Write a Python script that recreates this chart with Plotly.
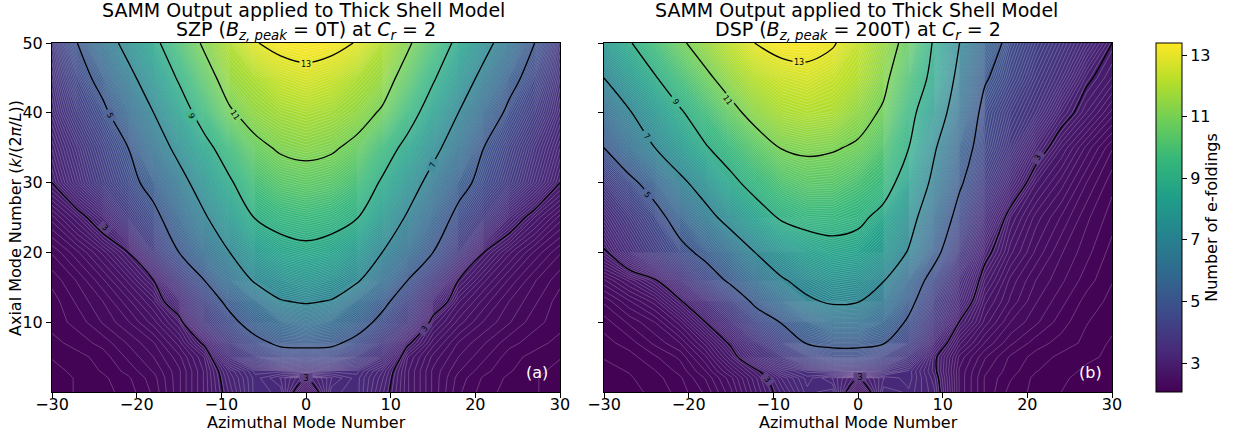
import plotly.graph_objects as go

FONT = "DejaVu Sans"
W, H = 1234, 437

# Azimuthal mode numbers and axial mode numbers of the value grids
azimuthal_half = [0, 3, 6, 9, 12, 15, 18, 21, 24, 27, 30]
azimuthal_full = [-30, -27, -24, -21, -18, -15, -12, -9, -6, -3, 0, 3, 6, 9, 12, 15, 18, 21, 24, 27, 30]
axial = [0, 2, 3, 5, 7, 10, 13, 16, 20, 25, 30, 35, 40, 45, 50]

# SZP: symmetric in azimuthal number, values for m = 0, 3, ... 30, one row per axial value
szp_half = [
    [2.60, 3.40, 3.45, 3.10, 2.75, 2.50, 2.30, 2.20, 2.15, 2.12, 2.10],
    [3.02, 3.30, 3.45, 3.15, 2.75, 2.50, 2.32, 2.22, 2.16, 2.12, 2.10],
    [3.60, 3.50, 3.50, 3.20, 2.75, 2.50, 2.35, 2.25, 2.18, 2.13, 2.10],
    [4.50, 4.45, 4.10, 3.55, 2.80, 2.55, 2.40, 2.30, 2.20, 2.15, 2.12],
    [5.25, 5.20, 4.70, 3.95, 3.05, 2.65, 2.45, 2.35, 2.25, 2.20, 2.15],
    [6.20, 5.95, 5.50, 4.70, 3.90, 2.85, 2.60, 2.45, 2.35, 2.25, 2.20],
    [7.10, 6.95, 6.10, 5.30, 4.35, 3.35, 2.75, 2.55, 2.40, 2.30, 2.20],
    [7.80, 7.55, 7.15, 6.10, 5.00, 4.00, 3.00, 2.70, 2.50, 2.35, 2.25],
    [8.70, 8.50, 8.00, 7.00, 6.00, 5.00, 4.00, 3.00, 2.70, 2.50, 2.35],
    [9.60, 9.45, 9.05, 8.00, 6.85, 5.70, 4.70, 4.00, 3.25, 2.85, 2.60],
    [10.50, 10.35, 9.90, 8.85, 7.70, 6.50, 5.40, 4.65, 4.05, 3.50, 3.00],
    [11.30, 11.15, 10.70, 9.70, 8.60, 7.40, 6.20, 5.00, 4.30, 3.70, 3.20],
    [11.95, 11.80, 11.50, 10.85, 9.60, 8.30, 7.00, 5.80, 4.75, 4.10, 3.45],
    [12.70, 12.50, 12.00, 11.60, 10.45, 9.15, 7.85, 6.60, 5.40, 4.50, 3.65],
    [13.39, 13.29, 12.95, 12.07, 11.20, 10.00, 8.65, 7.47, 6.25, 5.00, 3.90],
]

# DSP: one value per azimuthal_full entry, one row per axial value
dsp = [
    [2.08, 2.10, 2.13, 2.20, 2.30, 2.50, 2.80, 3.10, 3.40, 3.45, 2.60, 3.40, 3.35, 3.15, 2.50, 2.28, 2.15, 2.10, 2.06, 2.04, 2.02],
    [2.10, 2.11, 2.15, 2.22, 2.35, 2.55, 2.85, 3.20, 3.45, 3.30, 3.02, 3.30, 3.40, 3.10, 2.50, 2.28, 2.18, 2.10, 2.07, 2.04, 2.02],
    [2.10, 2.12, 2.17, 2.25, 2.40, 2.65, 2.95, 3.40, 3.55, 3.65, 3.70, 3.60, 3.40, 3.05, 2.50, 2.30, 2.20, 2.12, 2.08, 2.05, 2.03],
    [2.12, 2.15, 2.22, 2.30, 2.50, 2.85, 3.40, 3.85, 4.30, 4.60, 4.60, 4.30, 3.80, 3.05, 2.55, 2.35, 2.22, 2.15, 2.10, 2.07, 2.05],
    [2.15, 2.20, 2.30, 2.40, 2.65, 3.05, 3.70, 4.35, 5.05, 5.20, 5.20, 5.05, 4.30, 3.30, 2.70, 2.45, 2.30, 2.20, 2.15, 2.10, 2.05],
    [2.20, 2.30, 2.40, 2.60, 3.00, 3.65, 4.45, 5.05, 5.70, 6.15, 6.15, 5.70, 4.85, 3.85, 2.98, 2.60, 2.40, 2.30, 2.20, 2.12, 2.08],
    [2.30, 2.45, 2.60, 2.95, 3.55, 4.30, 5.25, 6.00, 6.85, 7.15, 7.05, 6.45, 5.30, 4.15, 3.30, 2.70, 2.50, 2.35, 2.25, 2.15, 2.10],
    [2.50, 2.70, 2.95, 3.65, 4.40, 5.20, 6.10, 6.90, 7.35, 7.70, 7.60, 7.05, 5.75, 4.55, 3.50, 2.85, 2.55, 2.40, 2.30, 2.20, 2.12],
    [2.95, 3.50, 4.05, 4.65, 5.30, 6.10, 7.05, 7.70, 8.25, 8.55, 8.40, 7.95, 6.90, 5.35, 4.00, 3.10, 2.70, 2.50, 2.35, 2.25, 2.15],
    [3.40, 3.95, 4.55, 5.55, 6.55, 7.50, 8.40, 9.15, 9.45, 9.50, 9.30, 8.60, 7.55, 5.95, 4.60, 3.55, 2.85, 2.60, 2.45, 2.30, 2.20],
    [4.00, 4.70, 5.55, 6.70, 7.65, 8.70, 9.50, 10.10, 10.40, 10.35, 10.00, 9.60, 8.30, 6.65, 5.15, 4.10, 3.35, 2.80, 2.60, 2.40, 2.25],
    [5.00, 6.00, 7.00, 7.95, 8.90, 9.65, 10.40, 11.05, 11.20, 11.10, 10.85, 10.20, 9.00, 7.15, 5.55, 4.50, 3.85, 3.20, 2.80, 2.55, 2.35],
    [5.85, 6.90, 7.85, 8.85, 9.75, 10.65, 11.45, 11.90, 12.05, 11.95, 11.45, 10.85, 9.45, 7.90, 6.10, 4.65, 4.10, 3.70, 3.15, 2.85, 2.60],
    [7.00, 7.95, 8.90, 9.85, 10.75, 11.55, 12.20, 12.55, 12.70, 12.45, 12.05, 11.30, 10.00, 8.60, 6.55, 5.10, 4.45, 3.95, 3.55, 3.05, 2.85],
    [7.90, 8.90, 9.85, 10.80, 11.60, 12.35, 13.05, 13.35, 13.35, 13.10, 12.40, 11.60, 10.60, 8.85, 7.00, 5.60, 4.70, 4.20, 3.80, 3.40, 3.00],
]

# Inline contour labels: level, azimuthal number, axial number, angle
szp_labels = [
    (3, -23.7, 23.5, 40), (5, -23.1, 39.6, 65), (9, -13.5, 39.6, 62), (11, -8.4, 39.7, 55),
    (13, 0, 47.0, 0), (7, 15.0, 32.5, -70), (3, 14.0, 9.0, -55), (3, 0, 2.0, 0),
]
dsp_labels = [
    (13, -7.0, 47.3, 0), (11, -15.4, 41.9, 55), (9, -21.5, 41.6, 55), (7, -24.9, 36.6, 50),
    (5, -24.9, 28.2, 50), (3, 21.3, 33.6, -60), (3, -10.8, 1.8, 50), (3, 0.2, 2.1, 0),
]
label_backgrounds = {3: "#5c4083", 5: "#526799", 7: "#44909c", 9: "#46b891", 11: "#86d570", 13: "#e7e840"}

title_top = "SAMM Output applied to Thick Shell Model"
title_szp = "SZP (<i>B<sub>z, peak</sub></i> = 0T) at <i>C<sub>r</sub></i> = 2"
title_dsp = "DSP (<i>B<sub>z, peak</sub></i> = 200T) at <i>C<sub>r</sub></i> = 2"
x_label = "Azimuthal Mode Number"
y_label = "Axial Mode Number (<i>k</i>/(2<i>π</i>/<i>L</i>))"
bar_label = "Number of e-foldings"
x_ticks = [-30, -20, -10, 0, 10, 20, 30]
y_ticks = [10, 20, 30, 40, 50]
bar_ticks = [3, 5, 7, 9, 11, 13]
z_low, z_high = 2.06, 13.39
n_fill_levels = 200

azimuthal_mirrored = [-m for m in azimuthal_half[:0:-1]] + azimuthal_half
szp = [row[:0:-1] + row for row in szp_half]

fig = go.Figure()
fill_size = (z_high - z_low) / n_fill_levels

tick_font = dict(family=FONT, size=16, color="black")
label_font = dict(family=FONT, size=16, color="black")

# A heatmap under the first panel's fill carries the smooth colour bar
fig.add_trace(go.Heatmap(
    x=azimuthal_mirrored, y=axial, z=szp, zmin=z_low, zmax=z_high, colorscale="Viridis", hoverinfo="skip",
    colorbar=dict(x=1156 / W, xanchor="left", y=1 - 392 / H, yanchor="bottom", len=349 / H, lenmode="fraction",
                  thickness=26, thicknessmode="pixels", tickvals=bar_ticks, ticks="outside", ticklen=5,
                  tickcolor="black", tickfont=tick_font, outlinewidth=1, outlinecolor="black", xpad=0, ypad=0,
                  title=dict(text=bar_label, side="right", font=label_font)),
))


def add_panel(x, z, xaxis, yaxis):
    fig.add_trace(go.Contour(
        x=x, y=axial, z=z, xaxis=xaxis, yaxis=yaxis, zauto=False, zmin=z_low, zmax=z_high,
        colorscale="Viridis", showscale=False, autocontour=False,
        contours=dict(start=z_low, end=z_high, size=fill_size, coloring="fill"),
        line=dict(color="rgba(255,255,255,0.45)", width=0.5, smoothing=0),
        hoverinfo="skip",
    ))
    fig.add_trace(go.Contour(
        x=x, y=axial, z=z, xaxis=xaxis, yaxis=yaxis, showscale=False,
        autocontour=False,
        colorscale=[[0, "black"], [1, "black"]],
        contours=dict(start=3, end=13, size=2, coloring="lines", showlabels=False),
        line=dict(color="black", width=1.3, smoothing=1),
        hoverinfo="skip",
    ))


add_panel(azimuthal_mirrored, szp, "x", "y")
add_panel(azimuthal_full, dsp, "x2", "y2")


def xaxis_style(x0, x1, anchor):
    return dict(domain=[x0 / W, x1 / W], range=[-30, 30], anchor=anchor, tickvals=x_ticks, automargin=False,
                ticks="outside", ticklen=5, tickwidth=1, tickcolor="black", showgrid=False, zeroline=False,
                showline=True, mirror=True, linecolor="black", linewidth=1, tickfont=tick_font,
                ticklabelstandoff=-7)


def yaxis_style(anchor, labels):
    return dict(domain=[1 - 392 / H, 1 - 43 / H], range=[0, 50], anchor=anchor, tickvals=y_ticks, automargin=False,
                ticks="outside", ticklen=5, tickwidth=1, tickcolor="black", showgrid=False, zeroline=False,
                showline=True, mirror=True, linecolor="black", linewidth=1, tickfont=tick_font,
                showticklabels=labels)


annotations = [dict(xref="paper", yref="paper", x=16 / W, y=1 - 218 / H, text=y_label, showarrow=False, textangle=-90,
                    font=label_font, xanchor="center", yanchor="middle")]
for cx, sub, tag, tx in [(303.5, title_szp, "(a)", 537), (856, title_dsp, "(b)", 1090)]:
    annotations.append(dict(xref="paper", yref="paper", x=cx / W, y=1 - 10 / H, text=title_top, showarrow=False,
                            font=dict(family=FONT, size=19, color="black"), xanchor="center", yanchor="middle"))
    annotations.append(dict(xref="paper", yref="paper", x=(cx + 2) / W, y=1 - 30 / H, text=sub, showarrow=False,
                            font=dict(family=FONT, size=19, color="black"), xanchor="center", yanchor="middle"))
    annotations.append(dict(xref="paper", yref="paper", x=tx / W, y=1 - 372 / H, text=tag, showarrow=False,
                            font=dict(family=FONT, size=16, color="white"), xanchor="center", yanchor="middle"))
    annotations.append(dict(xref="paper", yref="paper", x=(cx + 2.5) / W, y=1 - 422 / H, text=x_label, showarrow=False,
                            font=label_font, xanchor="center", yanchor="middle"))

for xref, yref, labels in [("x", "y", szp_labels), ("x2", "y2", dsp_labels)]:
    for level, m, k, angle in labels:
        annotations.append(dict(xref=xref, yref=yref, x=m, y=k, text=str(level), showarrow=False, textangle=angle,
                                font=dict(family=FONT, size=8, color="black"), bgcolor=label_backgrounds[level],
                                width=12, height=8, borderpad=0, align="center", valign="middle"))

fig.update_layout(
    width=W, height=H, autosize=False, margin=dict(l=0, r=0, t=0, b=0, autoexpand=False),
    paper_bgcolor="white", plot_bgcolor="white", showlegend=False,
    font=dict(family=FONT, color="black"),
    xaxis=xaxis_style(52, 560, "y"), yaxis=yaxis_style("x", True),
    xaxis2=xaxis_style(604, 1112, "y2"), yaxis2=yaxis_style("x2", False),
    annotations=annotations,
)

fig.write_html("out.html", config={"displayModeBar": False},
               post_script="document.body.style.margin='0';document.body.style.overflow='hidden';")
